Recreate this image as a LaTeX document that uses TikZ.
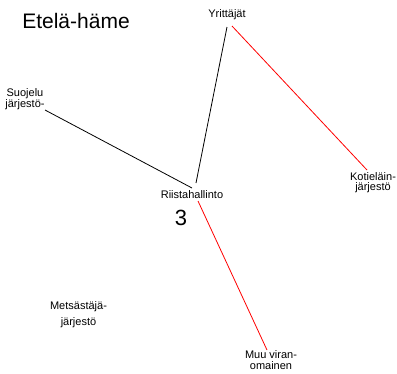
\documentclass[tikz,border=0pt]{standalone}
\usepackage{fontspec}
\setmainfont{Liberation Sans}
\begin{document}
\begin{tikzpicture}[x=1pt,y=-1pt,
  lbl/.style={inner sep=0pt,align=center,font=\fontsize{11}{10.5}\selectfont},
  blk/.style={draw=black,line width=0.8pt},
  rd/.style={draw=red,line width=0.8pt}]
\useasboundingbox[fill=white] (0,0) rectangle (397,373);
\node[inner sep=0pt,font=\fontsize{21}{24}\selectfont] (title) at (76,21) {Etelä-häme};
\node[lbl] (yr) at (227,15) {Yrittäjät};
\node[lbl] (su) at (25,99) {Suojelu\\järjestö-};
\node[lbl] (ri) at (192,195) {Riistahallinto};
\node[inner sep=0pt,font=\fontsize{22}{24}\selectfont] (num) at (181,218) {3};
\node[lbl] (ko) at (373,182.5) {Kotieläin-\\järjestö};
\node[lbl,font=\fontsize{11}{16}\selectfont] (me) at (78.5,315) {Metsästäjä-\\järjestö};
\node[lbl,font=\fontsize{11}{10.5}\selectfont] (mu) at (271,360) {Muu viran-\\omainen};
\coordinate (yrA) at (227,27);
\coordinate (yrB) at (232,26);
\coordinate (riT) at (196,183);
\coordinate (riL) at (192,188);
\coordinate (riB) at (198,201);
\coordinate (suE) at (45,110);
\coordinate (koE) at (367,170);
\coordinate (muE) at (267,350);
\draw[blk] (yrA) -- (riT);
\draw[rd] (yrB) -- (koE);
\draw[blk] (suE) -- (riL);
\draw[rd] (riB) -- (muE);
\end{tikzpicture}
\end{document}
